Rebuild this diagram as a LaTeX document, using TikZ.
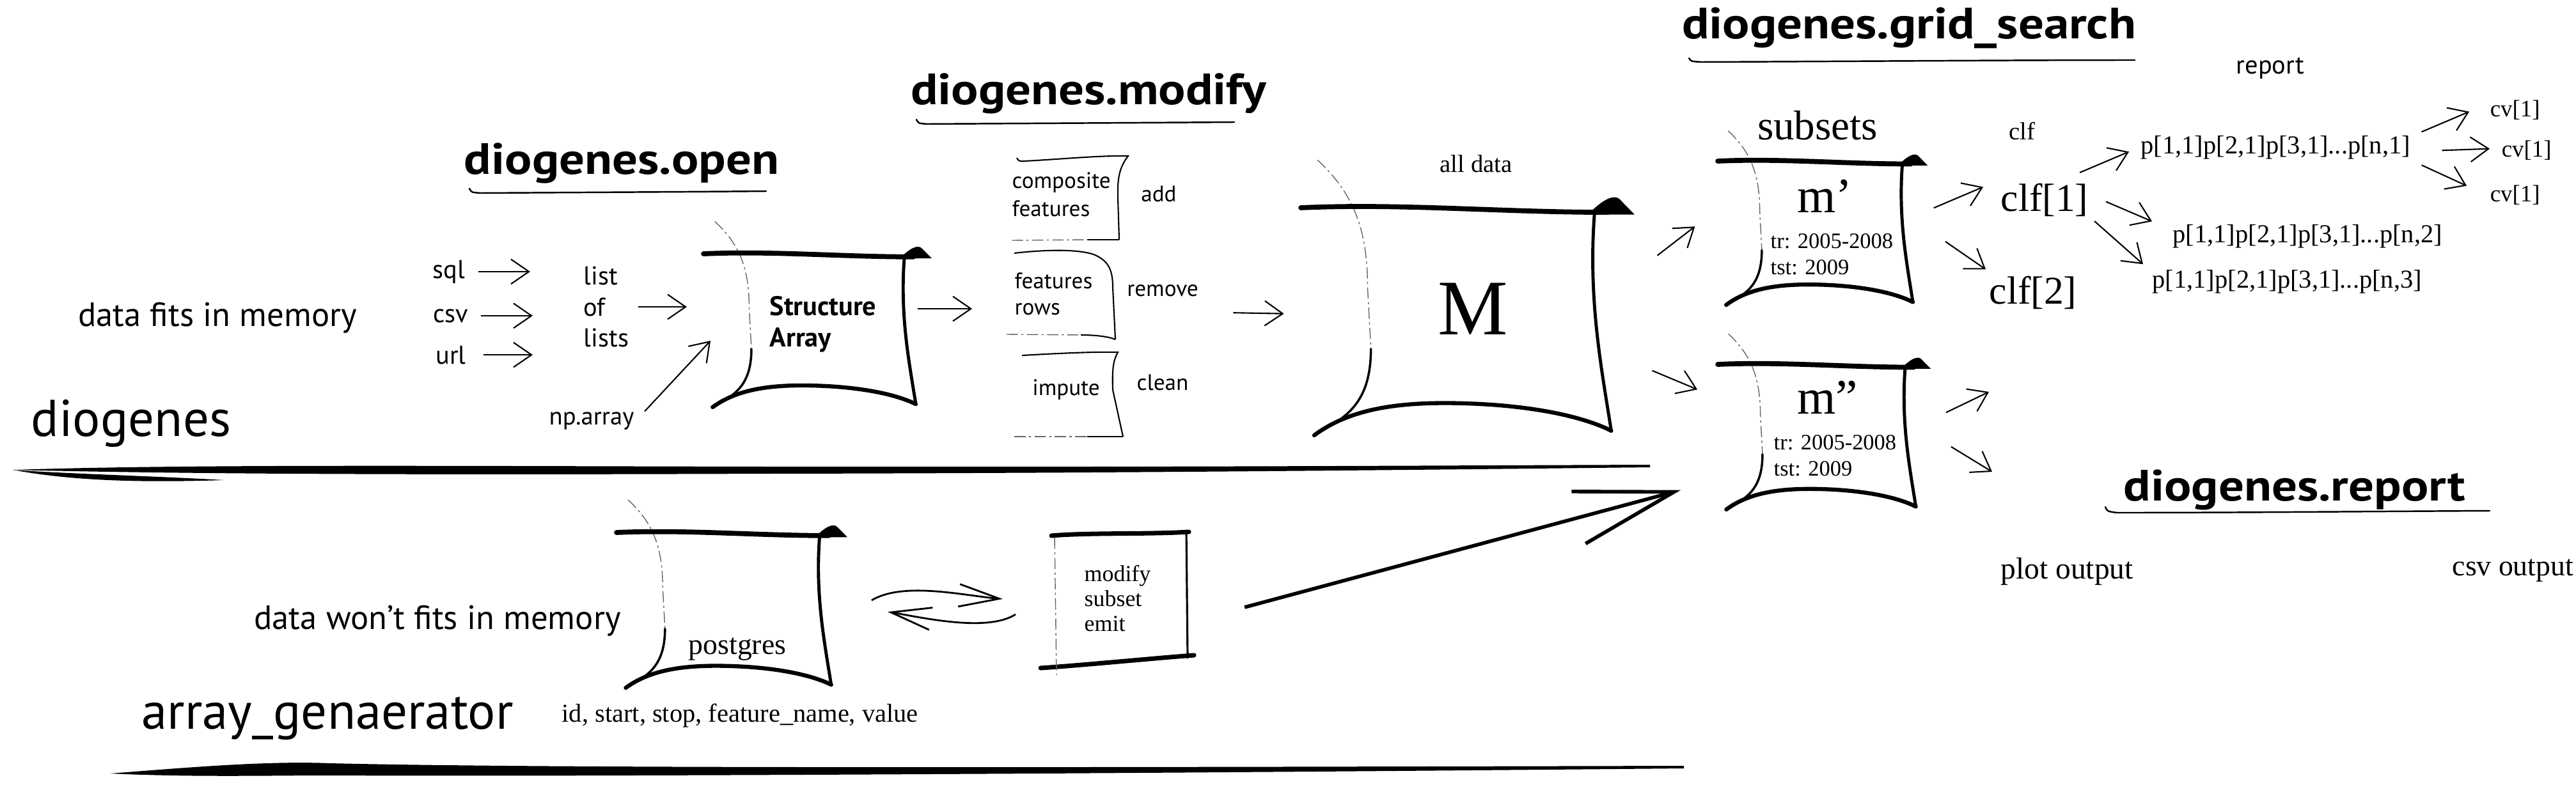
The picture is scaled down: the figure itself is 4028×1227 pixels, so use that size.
\documentclass[tikz,border=0pt]{standalone}
\usepackage{fontspec}
\setmainfont{Liberation Serif}
\setsansfont{PT Sans}
\newfontfamily\headfont[FakeStretch=1.15]{PT Sans}
\usetikzlibrary{arrows.meta}

\begin{document}
\begin{tikzpicture}[x=0.01cm,y=-0.01cm,
    sf/.style={inner sep=0pt,font=\sffamily\fontsize{#1}{#1}\selectfont},
    rm/.style={inner sep=0pt,font=\rmfamily\fontsize{#1}{#1}\selectfont},
    head/.style={inner sep=0pt,font=\headfont\bfseries\fontsize{19.5pt}{19.5pt}\selectfont},
    uline/.style={line width=0.7pt,line cap=round},
    hand/.style={-{Straight Barb[length=8pt,width=11pt]},line width=0.6pt},
    wavy/.style={-{Straight Barb[length=18pt,width=10pt]},line width=0.8pt},
    bigarrow/.style={-{Straight Barb[length=44pt,width=24pt,line width=1.6pt]},line width=1.6pt},
    bar/.style={line width=2.2pt,line cap=round},
    side/.style={line width=1.4pt,line cap=round},
    faint/.style={line width=0.4pt,black!60,dash pattern=on 5pt off 1.5pt on 1pt off 1.5pt},
    thinbox/.style={line width=0.6pt},
    scroll/.pic={
        \draw[faint] (0.05,-0.21) .. controls (0.16,-0.06) and (0.2,0.1) .. (0.2,0.35) -- (0.21,0.62);
        \draw[side,line width=1pt] (0.21,0.62) .. controls (0.21,0.88) and (0.12,0.93) .. (0.04,1);
        \draw[bar] (0,0) .. controls (0.3,-0.02) and (0.6,0.02) .. (0.92,0.02);
        \fill (0.86,0.03) .. controls (0.9,-0.03) and (0.94,-0.07) .. (0.96,-0.03) -- (1,0.03) -- cycle;
        \draw[side] (0.88,0.02) .. controls (0.86,0.4) and (0.9,0.7) .. (0.93,0.98);
        \draw[bar,line width=1.8pt] (0.04,1) .. controls (0.15,0.88) and (0.3,0.85) .. (0.5,0.86) .. controls (0.7,0.87) and (0.85,0.92) .. (0.93,0.98);
    }]
    \useasboundingbox (0,0) rectangle (4028,1227);

    % the two lanes
    \node[sf=23pt,anchor=base] (dio) at (205,682) {diogenes};
    \node[sf=23pt,anchor=base] (arrg) at (512,1140) {array\_genaerator};
    \fill (20,735) .. controls (300,726) and (700,729) .. (1200,730) .. controls (1800,731) and (2300,728) .. (2580,727)
        -- (2580,731) .. controls (2300,734) and (1800,740) .. (1200,741) .. controls (700,743) and (300,742) .. (20,735) -- cycle;
    \fill (20,735) .. controls (100,750) and (200,756) .. (350,751) .. controls (250,745) and (100,741) .. (20,735) -- cycle;
    \fill (172,1210) .. controls (300,1200) and (420,1190) .. (516,1194) .. controls (900,1203) and (1800,1200) .. (2633,1198)
        -- (2633,1202) .. controls (1800,1210) and (900,1215) .. (516,1213) .. controls (420,1213) and (300,1216) .. (172,1210) -- cycle;

    % headings
    \node[head,anchor=base] (hopen) at (972,272) {diogenes.open};
    \draw[uline] (734,295) .. controls (737,301) .. (752,302) .. controls (900,301) and (1100,300) .. (1198,299);
    \node[head,anchor=base] (hmod) at (1702,163) {diogenes.modify};
    \draw[uline] (1433,187) .. controls (1436,193) .. (1450,194) .. controls (1600,193) and (1800,192) .. (1930,191);
    \node[head,anchor=base] (hgrid) at (2985,60) {diogenes.grid\_search};
    \draw[uline] (2641,91) .. controls (2644,96) .. (2660,97) .. controls (2900,96) and (3150,94) .. (3338,94);
    \node[head,anchor=base] (hrep) at (3588,783) {diogenes.report};
    \draw[uline] (3292,793) .. controls (3295,800) .. (3310,802) .. controls (3500,802) and (3700,800) .. (3893,799);

    % diogenes.open
    \node[sf=15pt,anchor=base] (fits) at (340,510) {data fits in memory};
    \node[sf=11.5pt,anchor=base] (sql) at (702,435) {sql};
    \node[sf=11.5pt,anchor=base] (csv) at (705,504) {csv};
    \node[sf=11.5pt,anchor=base] (url) at (705,569) {url};
    \node[inner sep=0pt,align=left,anchor=west,font=\sffamily\fontsize{11.5pt}{13.9pt}\selectfont] (lol) at (912,480) {list\\of\\lists};
    \node[sf=11pt,anchor=base] (nparr) at (925,664) {np.array};
    \pic[xscale=357,yscale=240] at (1100,397) {scroll};
    \node[inner sep=0pt,align=left,anchor=west,font=\sffamily\bfseries\fontsize{12pt}{14pt}\selectfont] (sarr) at (1203,507) {Structure\\Array};
    \draw[hand,shorten <=0.2cm,shorten >=0.83cm] (sql) -- (sql -| lol.west);
    \draw[hand,shorten <=0.19cm,shorten >=0.79cm] (csv) -- (csv -| lol.west);
    \draw[hand,shorten <=0.27cm,shorten >=0.79cm] (url) -- (url -| lol.west);
    \draw[hand,shorten <=0.14cm,shorten >=1.29cm] (lol) -- (lol -| sarr.west);
    \draw[hand] ([shift={(16,0)}]nparr.north east) -- ([shift={(-92,26)}]sarr.west);

    % diogenes.modify
    \draw[thinbox] (1590,247) .. controls (1592,252) and (1596,253) .. (1602,252) .. controls (1660,249) and (1720,243) .. (1764,244)
        .. controls (1750,262) and (1747,280) .. (1748,310) -- (1750,375);
    \draw[faint] (1582,376) -- (1700,375);
    \draw[thinbox] (1700,375) -- (1750,375);
    \draw[thinbox] (1586,396) .. controls (1620,392) and (1680,388) .. (1710,398) .. controls (1735,408) and (1740,425) .. (1740,450) -- (1744,531);
    \draw[faint] (1574,523) -- (1690,524);
    \draw[thinbox] (1690,524) .. controls (1715,524) and (1735,527) .. (1744,531);
    \draw[thinbox] (1598,556) .. controls (1650,553) and (1710,550) .. (1748,551) .. controls (1740,565) and (1739,580) .. (1740,610) -- (1756,683);
    \draw[faint] (1586,683) -- (1700,683);
    \draw[thinbox] (1700,683) -- (1756,683);
    \node[inner sep=0pt,align=left,anchor=west,font=\sffamily\fontsize{10pt}{12.4pt}\selectfont] (comp) at (1582,304) {composite\\features};
    \node[sf=10pt,anchor=base] (add) at (1812,315) {add};
    \node[inner sep=0pt,align=left,anchor=west,font=\sffamily\fontsize{10pt}{11.8pt}\selectfont] (frows) at (1586,460) {features\\rows};
    \node[sf=10pt,anchor=base] (remove) at (1818,463) {remove};
    \node[sf=10pt,anchor=base] (impute) at (1667,618) {impute};
    \node[sf=10pt,anchor=base] (clean) at (1818,610) {clean};
    \draw[hand] ([shift={(64,-24)}]sarr.east) -- ([shift={(-66,23)}]frows.west);

    % all data
    \pic[xscale=522,yscale=356] at (2034,325) {scroll};
    \node[rm=11pt,anchor=base] (alld) at (2308,269) {all data};
    \node[rm=35pt,anchor=base] (M) at (2303,523) {M};
    \draw[hand] ([shift={(54,35)}]remove.east) -- ([shift={(-240,8)}]M.west);

    % diogenes.grid_search
    \node[rm=18.5pt,anchor=base] (subsets) at (2842,218) {subsets};
    \node[rm=11pt,anchor=base] (clf) at (3162,218) {clf};
    \node[sf=11.5pt,anchor=base] (report) at (3550,115) {report};
    \pic[xscale=328,yscale=225] at (2686,252) {scroll};
    \node[rm=22pt,anchor=base] (m1) at (2853,332) {m’};
    \node[rm=9.8pt,anchor=base west] (tr1) at (2768,388) {tr: 2005-2008};
    \node[rm=9.8pt,anchor=base west] (tst1) at (2768,429) {tst: 2009};
    \pic[xscale=333,yscale=227] at (2686,570) {scroll};
    \node[rm=22pt,anchor=base] (m2) at (2858,647) {m”};
    \node[rm=9.8pt,anchor=base west] (tr2) at (2773,703) {tr: 2005-2008};
    \node[rm=9.8pt,anchor=base west] (tst2) at (2773,744) {tst: 2009};
    \node[rm=17.5pt,anchor=base west] (clf1) at (3128,330) {clf[1]};
    \node[rm=17.5pt,anchor=base west] (clf2) at (3110,475) {clf[2]};
    \node[rm=11.5pt,anchor=base west] (p1) at (3347,240) {p[1,1]p[2,1]p[3,1]...p[n,1]};
    \node[rm=11.5pt,anchor=base west] (p2) at (3397,379) {p[1,1]p[2,1]p[3,1]...p[n,2]};
    \node[rm=11.5pt,anchor=base west] (p3) at (3365,450) {p[1,1]p[2,1]p[3,1]...p[n,3]};
    \node[rm=10.5pt,anchor=base west] (cva) at (3893,182) {cv[1]};
    \node[rm=10.5pt,anchor=base west] (cvb) at (3911,245) {cv[1]};
    \node[rm=10.5pt,anchor=base west] (cvc) at (3893,315) {cv[1]};
    \coordinate (outa) at (3110,613);
    \coordinate (outb) at (3115,738);
    \draw[hand] ([shift={(233,-83)}]M.east) -- ([shift={(-159,48)}]m1.west);
    \draw[hand] ([shift={(225,97)}]M.east) -- ([shift={(-156,-12)}]m2.west);
    \draw[hand] ([shift={(127,19)}]m1.east) -- ([shift={(-27,-20)}]clf1.west);
    \draw[hand] ([shift={(81,1)}]tr1.east) -- ([shift={(-5,-36)}]clf2.west);
    \draw[hand] ([shift={(-14,-16)}]clf1.north east) -- ([shift={(-18,7)}]p1.west);
    \draw[hand] ([shift={(27,3)}]clf1.east) -- ([shift={(-32,-23)}]p2.west);
    \draw[hand] ([shift={(9,7)}]clf1.south east) -- ([shift={(-14,-27)}]p3.west);
    \draw[hand] ([shift={(17,-24)}]p1.east) -- ([shift={(-32,3)}]cva.west);
    \draw[hand] ([shift={(49,5)}]p1.east) -- ([shift={(-18,-2)}]cvb.west);
    \draw[hand] ([shift={(17,28)}]p1.east) -- ([shift={(-36,-14)}]cvc.west);
    \draw[hand] ([shift={(137,24)}]m2.east) -- (outa);
    \draw[hand] ([shift={(85,7)}]tr2.east) -- (outb);

    % diogenes.report
    \node[rm=13.5pt,anchor=base west] (plot) at (3128,905) {plot output};
    \node[rm=13pt,anchor=base west] (csvout) at (3834,900) {csv output};

    % array_genaerator
    \node[sf=15pt,anchor=base] (nofit) at (684,984) {data won’t fits in memory};
    \pic[xscale=361,yscale=243] at (964,833) {scroll};
    \node[rm=13pt,anchor=base] (pg) at (1153,1023) {postgres};
    \node[rm=11.5pt,anchor=base west] (cols) at (878,1129) {id, start, stop, feature\_name, value};
    \draw[bar,line width=2pt] (1644,838) .. controls (1700,833) and (1800,836) .. (1859,832);
    \draw[side,line width=0.9pt] (1855,833) -- (1857,1029);
    \draw[bar,line width=2pt] (1627,1045) .. controls (1700,1040) and (1800,1030) .. (1867,1025);
    \draw[faint] (1649,841) -- (1652,1056);
    \node[inner sep=0pt,align=left,anchor=west,font=\rmfamily\fontsize{10.2pt}{11pt}\selectfont] (mse) at (1695,936) {modify\\subset\\emit};
    \draw[wavy] ([shift={(133,-76)}]pg.east) .. controls +(50,-30) and +(-60,-5) .. ([shift={(-127,1)}]mse.west);
    \draw[wavy] ([shift={(-107,25)}]mse.west) .. controls +(-45,29) and +(50,8) .. ([shift={(158,-58)}]pg.east);
    \draw[bigarrow] ([shift={(146,14)}]mse.east) -- ([shift={(-182,119)}]m2.south west);
\end{tikzpicture}
\end{document}
